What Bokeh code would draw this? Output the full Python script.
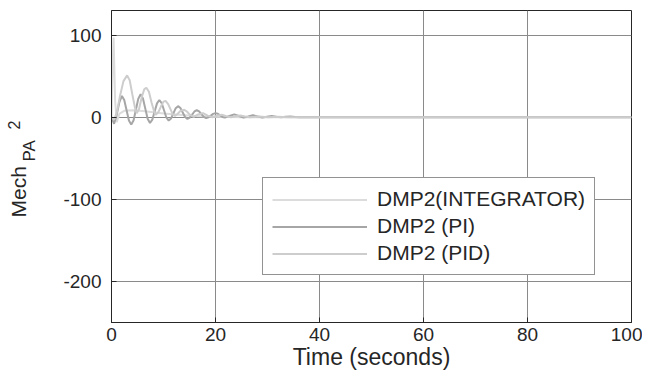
import math
from bokeh.plotting import figure
from bokeh.layouts import row
from bokeh.models import Legend, LegendItem, FixedTicker, Range1d, CustomJSTickFormatter
from bokeh.core.properties import value
from bokeh.embed import file_html
from bokeh.resources import INLINE

# ---- data ----
t_int = [0, 0.2, 0.4, 0.7, 1.0, 1.5, 2.5, 4, 6, 8, 10, 13, 16, 20, 25, 100]
y_int = [0, 60, 97, 20, -6, 4, 8, 8.5, 7.5, 6, 4.5, 3, 1.5, 0.5, 0, 0]

t_pi = [0, 0.5, 1.0, 1.5, 2.0, 2.45, 2.9, 3.35, 3.8, 4.25, 4.7, 5.15, 5.6, 6.05, 6.5, 6.95, 7.4,
        7.85, 8.3, 8.75, 9.2, 9.65, 10.1, 10.55, 11.0, 11.45, 11.9, 12.35, 12.8, 13.25, 13.7,
        14.15, 14.6, 15.05, 15.5, 15.95, 16.4, 16.85, 17.3, 17.75, 18.2, 18.65, 19.1, 19.55,
        20.0, 20.45, 20.9, 21.35, 21.8, 22.7, 23.6, 24.5, 25.4, 26.3, 27.2, 28.1, 29.0, 29.9,
        30.8, 31.7, 32.6, 33.5, 34.4, 35.3, 36.2, 40, 100]
y_pi = [0, -8, 3, 18, 26, 20.9, 8.5, -3.9, -9, -3.6, 9.5, 22.6, 28, 22.9, 10.5, -1.9, -7,
        -2.9, 7, 16.9, 21, 17.3, 8.5, -0.3, -4, -1.4, 4.8, 11, 13.5, 11.2, 5.8,
        0.3, -2, -0.5, 3.3, 7, 8.5, 7.1, 3.8, 0.4, -1, 0, 2, 4.1,
        5, 4.2, 2.3, 0.3, -0.5, 1.5, 3.5, 1.5, -0.3, 1, 2.5, 1, -0.2, 0.7,
        1.5, 0.6, 0, 0.5, 1, 0.4, 0, 0, 0]

t_pid = [0, 0.5, 1.0, 1.6, 2.3, 3.0, 3.5, 4.0, 4.5, 4.85, 5.3, 5.8, 6.3, 6.7, 7.2, 7.7, 8.2,
         8.5, 9.0, 9.5, 10.0, 10.4, 10.9, 11.4, 11.8, 12.2, 12.7, 13.3, 14.0, 14.5, 15.0, 15.8,
         16.5, 17.6, 18.5, 19.4, 20.3, 21.2, 22.1, 23.0, 23.9, 24.8, 25.7, 26.6, 28.4, 30.2,
         32, 34, 100]
y_pid = [0, -3, 5, 25, 44, 51, 45, 28, 12, 5, 10, 24, 34, 36, 31, 18, 7,
         3, 6, 13, 19, 20, 16, 9, 3.5, 1.5, 4, 8, 9, 7, 3.5, 0.5,
         3, 5, 2, 0, 1.8, 3, 1.2, 0, 1.2, 2, 0.8, 0, 1, 0,
         0.5, 0, 0]

x_ticks = [0, 20, 40, 60, 80, 100]
y_ticks = [-200, -100, 0, 100]
labels = ["DMP2(INTEGRATOR)", "DMP2 (PI)", "DMP2 (PID)"]
colors = ["#dcdcdc", "#a6a6a6", "#cdcdcd"]
ylabel_parts = ["Mech", "PA", "2"]

FONT = "Liberation Sans"
H = 381
W_LAB = 50          # narrow strip holding the y-axis title
W_MAIN = 592

# ---- strip with the rotated y-axis title "Mech_PA^2" (pixel coordinate system) ----
lab = figure(width=W_LAB, height=H, frame_width=W_LAB, frame_height=H,
             output_backend="svg", toolbar_location=None, title=None,
             x_range=Range1d(0, W_LAB), y_range=Range1d(0, H),
             x_axis_location=None, y_axis_location=None,
             min_border=0, min_border_left=0, min_border_right=0,
             min_border_top=0, min_border_bottom=0)
lab.outline_line_color = None
lab.grid.visible = False
lab.background_fill_color = "white"
lab.border_fill_color = "white"
ang = math.pi / 2
lab.text(x=[18], y=[H - 207], text=[ylabel_parts[0]], angle=ang, text_font=value(FONT),
         text_font_size="21px", text_color="#262626", text_baseline="alphabetic", text_align="left")
lab.text(x=[29], y=[H - 151], text=[ylabel_parts[1]], angle=ang, text_font=value(FONT),
         text_font_size="17px", text_color="#262626", text_baseline="alphabetic", text_align="left")
lab.text(x=[13], y=[H - 119], text=[ylabel_parts[2]], angle=ang, text_font=value(FONT),
         text_font_size="16px", text_color="#262626", text_baseline="alphabetic", text_align="left")

# ---- main plot ----
p = figure(width=W_MAIN, height=H, output_backend="svg", toolbar_location=None, title=None,
           x_range=Range1d(0, 100), y_range=Range1d(-250, 130),
           min_border_left=111 - W_LAB, min_border_right=11, min_border_top=10,
           min_border_bottom=59)
p.background_fill_color = "white"
p.border_fill_color = "white"
p.outline_line_color = "#262626"
p.outline_line_width = 1

r1 = p.line(t_int, y_int, line_color=colors[0], line_width=2)
r2 = p.line(t_pi, y_pi, line_color=colors[1], line_width=2)
r3 = p.line(t_pid, y_pid, line_color=colors[2], line_width=2)

fmt = CustomJSTickFormatter(code="return String(tick);")
for ax in (p.xaxis[0], p.yaxis[0]):
    ax.axis_line_color = "#262626"
    ax.major_tick_line_color = "#262626"
    ax.major_tick_in = 5
    ax.major_tick_out = 0
    ax.minor_tick_line_color = None
    ax.major_label_text_font = FONT
    ax.major_label_text_font_size = "19px"
    ax.major_label_text_color = "#262626"
    ax.axis_label_text_font = FONT
    ax.axis_label_text_font_style = "normal"
    ax.axis_label_text_color = "#262626"
    ax.formatter = fmt

p.xaxis.ticker = FixedTicker(ticks=x_ticks)
p.yaxis.ticker = FixedTicker(ticks=y_ticks)
p.xaxis.major_label_standoff = 5
p.yaxis.major_label_standoff = 10
p.xaxis.axis_label = "Time (seconds)"
p.xaxis.axis_label_text_font_size = "23px"
p.xaxis.axis_label_standoff = 0

p.xgrid.ticker = FixedTicker(ticks=x_ticks)
p.ygrid.ticker = FixedTicker(ticks=y_ticks)
p.grid.grid_line_color = "#8a8a8a"
p.grid.grid_line_width = 1
p.grid.grid_line_alpha = 1

legend = Legend(items=[LegendItem(label=labels[0], renderers=[r1]),
                       LegendItem(label=labels[1], renderers=[r2]),
                       LegendItem(label=labels[2], renderers=[r3])],
                location=(151, 47))
legend.label_text_font = FONT
legend.label_text_font_size = "21px"
legend.label_text_color = "#262626"
legend.glyph_width = 95
legend.glyph_height = 21
legend.label_height = 21
legend.label_standoff = 10
legend.spacing = 3
legend.padding = 9
legend.margin = 0
legend.border_line_color = "#262626"
legend.border_line_width = 1
legend.background_fill_color = "white"
legend.background_fill_alpha = 1
p.add_layout(legend, "center")

layout = row(lab, p, spacing=0)
open("out.html", "w").write(file_html(layout, INLINE))
